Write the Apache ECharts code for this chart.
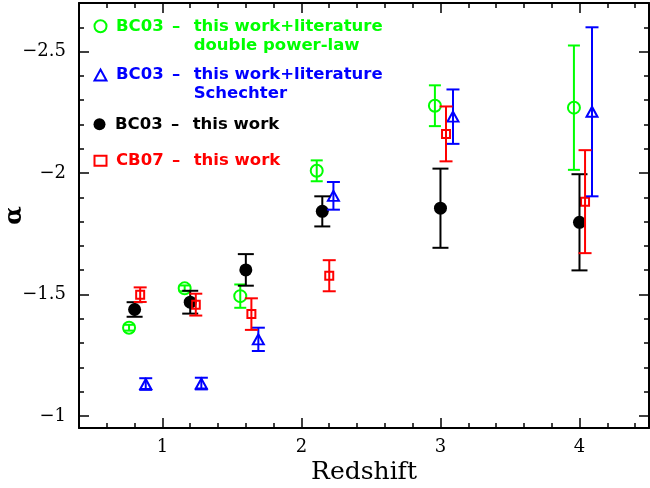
<!DOCTYPE html>
<html>
<head>
<meta charset="utf-8">
<script src="https://cdn.jsdelivr.net/npm/echarts@6/dist/echarts.min.js"></script>
<style>html,body{margin:0;padding:0;background:#fff}#chart{width:650px;height:488px}</style>
</head>
<body>
<div id="chart"></div>
<script>
// ---- data ----
const zDPL     = [0.76, 1.16, 1.56, 2.11, 2.96, 3.96];
const aDPL     = [-1.363, -1.525, -1.493, -2.009, -2.277, -2.269];
const eDPL     = [0.012, 0.012, 0.048, 0.043, 0.084, 0.256];

const zSch     = [0.88, 1.28, 1.69, 2.23, 3.09, 4.09];
const aSch     = [-1.131, -1.133, -1.315, -1.906, -2.232, -2.252];
const eSch     = [0.024, 0.024, 0.048, 0.057, 0.112, 0.348];

const zBC03    = [0.80, 1.20, 1.60, 2.15, 3.00, 4.00];
const aBC03    = [-1.438, -1.468, -1.601, -1.842, -1.855, -1.797];
const eBC03    = [0.030, 0.047, 0.065, 0.062, 0.163, 0.198];

const zCB07    = [0.84, 1.24, 1.64, 2.20, 3.04, 4.04];
const aCB07    = [-1.499, -1.458, -1.419, -1.577, -2.161, -1.882];
const eCB07    = [0.030, 0.045, 0.065, 0.064, 0.113, 0.212];

const xTicksMajor = [1, 2, 3, 4];
const yTicksMajor = [-2.5, -2, -1.5, -1];

// ---- helpers ----
const GREEN = '#00ff00', BLUE = '#0000ff', BLACK = '#000000', RED = '#ff0000';
function pts(z, a) { return z.map((x, i) => [x, a[i]]); }
function errs(z, a, e) { return z.map((x, i) => [x, a[i] - e[i], a[i] + e[i]]); }
function errRender(cap, color) {
  return function (params, api) {
    const x = api.value(0), lo = api.value(1), hi = api.value(2);
    const p1 = api.coord([x, lo]), p2 = api.coord([x, hi]);
    const h = cap / 2;
    const style = { stroke: color, lineWidth: 2, fill: null };
    return { type: 'group', children: [
      { type: 'line', shape: { x1: p1[0], y1: p1[1], x2: p2[0], y2: p2[1] }, style: style },
      { type: 'line', shape: { x1: p1[0] - h, y1: p1[1], x2: p1[0] + h, y2: p1[1] }, style: style },
      { type: 'line', shape: { x1: p2[0] - h, y1: p2[1], x2: p2[0] + h, y2: p2[1] }, style: style }
    ] };
  };
}
function errSeries(name, z, a, e, cap, color) {
  return { name: name, type: 'custom', renderItem: errRender(cap, color),
    data: errs(z, a, e), encode: { x: 0, y: [1, 2] }, z: 3, silent: true };
}
function minusFmt(v) { return v < 0 ? '\u2212' + String(-v) : String(v); }

function rich(color) {
  const base = { color: color, fontFamily: 'DejaVu Sans', fontWeight: 'bold', fontSize: 16.5, lineHeight: 19 };
  return {
    g: Object.assign({}, base, { width: 4.5 }),
    a: Object.assign({}, base, { width: 56 }),
    d: Object.assign({}, base, { width: 21.7 }),
    c: Object.assign({}, base)
  };
}
function legend(name, top, itemH, icon, itemStyle, color, text) {
  return {
    left: 93.5, top: top, padding: 0, itemWidth: 12, itemHeight: itemH,
    selectedMode: false,
    data: [{ name: name, icon: icon, itemStyle: itemStyle }],
    formatter: function () { return text; },
    textStyle: { color: color, fontFamily: 'DejaVu Sans', fontWeight: 'bold', fontSize: 16.5, rich: rich(color) }
  };
}

const axisLine = { show: true, onZero: false, lineStyle: { color: '#000', width: 2 } };
const tickStyle = { color: '#000', width: 1.5 };
function xAxis(pos, labels) {
  return {
    type: 'value', position: pos, min: 0.4, max: 4.5, splitNumber: 4,
    axisLine: axisLine,
    axisTick: { show: true, inside: true, length: 10, lineStyle: tickStyle },
    minorTick: { show: true, splitNumber: 5, length: 5, lineStyle: tickStyle },
    splitLine: { show: false }, minorSplitLine: { show: false },
    axisLabel: { show: labels, showMinLabel: false, showMaxLabel: false, margin: 10,
      color: '#000', fontFamily: 'DejaVu Serif', fontSize: 18 },
    name: labels ? 'Redshift' : '', nameLocation: 'middle', nameGap: 32, nameMoveOverlap: false,
    nameTextStyle: { color: '#000', fontFamily: 'DejaVu Serif', fontSize: 25 }
  };
}
function yAxis(pos, labels) {
  return {
    type: 'value', position: pos, min: -2.7, max: -0.95, splitNumber: 4, inverse: true,
    axisLine: axisLine,
    axisTick: { show: true, inside: true, length: 10, lineStyle: tickStyle },
    minorTick: { show: true, splitNumber: 5, length: 5, lineStyle: tickStyle },
    splitLine: { show: false }, minorSplitLine: { show: false },
    axisLabel: { show: labels, showMinLabel: false, showMaxLabel: false, margin: 13,
      color: '#000', fontFamily: 'DejaVu Serif', fontSize: 18, formatter: minusFmt },
    name: labels ? '\u03b1' : '', nameLocation: 'middle', nameGap: 52, nameRotate: 90, nameMoveOverlap: false,
    nameTextStyle: { color: '#000', fontFamily: 'DejaVu Serif', fontWeight: 'bold', fontSize: 24 }
  };
}

const chart = echarts.init(document.getElementById('chart'), null, { renderer: 'canvas' });
chart.setOption({
  animation: false,
  backgroundColor: '#fff',
  grid: { left: 79, right: 1, top: 3, bottom: 60, containLabel: false, outerBoundsMode: 'none' },
  xAxis: [xAxis('bottom', true), xAxis('top', false)],
  yAxis: [yAxis('left', true), yAxis('right', false)],
  legend: [
    legend('BC03 - this work+literature double power-law', -1.2, 12, 'circle',
      { color: 'rgba(0,0,0,0)', borderColor: GREEN, borderWidth: 2 }, GREEN,
      '{g| }\n{g| }{a|BC03}{d|\u2013}{c|this work+literature}\n{g| }{a| }{d| }{c|double power-law}'),
    legend('BC03 - this work+literature Schechter', 47.5, 11, 'triangle',
      { color: 'rgba(0,0,0,0)', borderColor: BLUE, borderWidth: 2 }, BLUE,
      '{g| }\n{g| }{a|BC03}{d|\u2013}{c|this work+literature}\n{g| }{a| }{d| }{c|Schechter}'),
    legend('BC03 - this work', 115.8, 12, 'circle',
      { color: BLACK, borderWidth: 0 }, BLACK,
      '{g| }{a|BC03}{d|\u2013}{c|this work}'),
    legend('CB07 - this work', 152.2, 10, 'rect',
      { color: 'rgba(0,0,0,0)', borderColor: RED, borderWidth: 2 }, RED,
      '{g| }{a|CB07}{d|\u2013}{c|this work}')
  ],
  series: [
    { name: 'BC03 - this work+literature double power-law', type: 'scatter', data: pts(zDPL, aDPL),
      symbol: 'circle', symbolSize: 12, itemStyle: { color: 'rgba(0,0,0,0)', borderColor: GREEN, borderWidth: 2, opacity: 1 }, z: 2 },
    errSeries('BC03 - this work+literature double power-law', zDPL, aDPL, eDPL, 12, GREEN),
    { name: 'BC03 - this work+literature Schechter', type: 'scatter', data: pts(zSch, aSch),
      symbol: 'triangle', symbolSize: [11, 10], itemStyle: { color: 'rgba(0,0,0,0)', borderColor: BLUE, borderWidth: 2, opacity: 1 }, z: 2 },
    errSeries('BC03 - this work+literature Schechter', zSch, aSch, eSch, 13, BLUE),
    { name: 'BC03 - this work', type: 'scatter', data: pts(zBC03, aBC03),
      symbol: 'circle', symbolSize: 13, itemStyle: { color: BLACK, opacity: 1 }, z: 2 },
    errSeries('BC03 - this work', zBC03, aBC03, eBC03, 16, BLACK),
    { name: 'CB07 - this work', type: 'scatter', data: pts(zCB07, aCB07),
      symbol: 'rect', symbolSize: 8, itemStyle: { color: 'rgba(0,0,0,0)', borderColor: RED, borderWidth: 2, opacity: 1 }, z: 2 },
    errSeries('CB07 - this work', zCB07, aCB07, eCB07, 13, RED)
  ]
});
</script>
</body>
</html>
